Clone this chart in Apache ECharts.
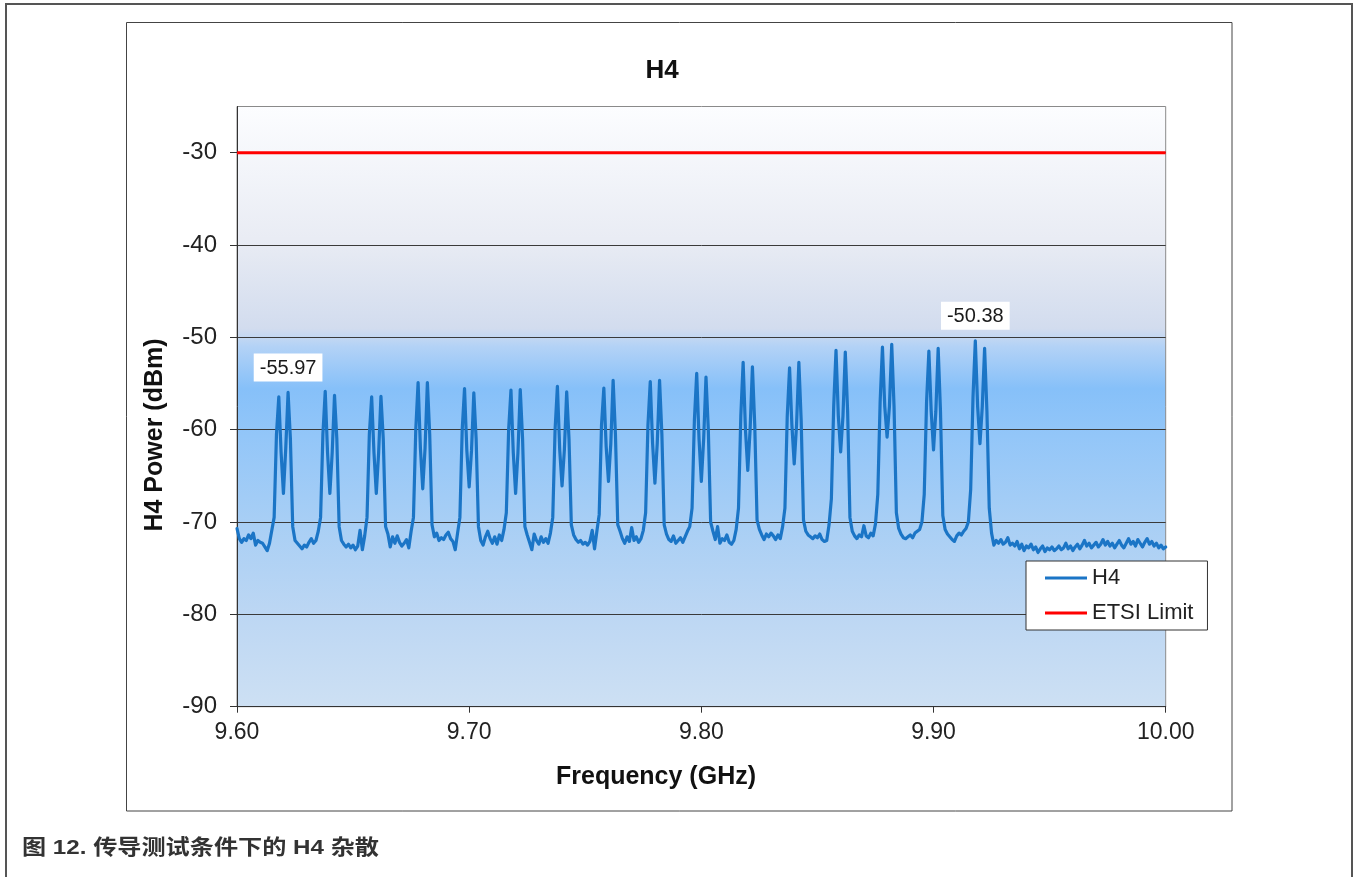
<!DOCTYPE html>
<html>
<head>
<meta charset="utf-8">
<title>H4</title>
<script src="https://cdn.jsdelivr.net/npm/echarts@6.0.0/dist/echarts.min.js"></script>
<style>
  html, body { margin: 0; padding: 0; background: #ffffff; }
  #chart { width: 1356px; height: 877px; }
</style>
</head>
<body>
<div id="chart"></div>
<script>
// Sweep grid: 9.600 GHz to 10.000 GHz in 1 MHz steps
const freqStart = 9.6;
const freqStep = 0.001;

// Measured H4 power (dBm), one value per sweep point
const h4Power = [
  -70.7, -71.8, -72.2, -71.8, -72.0, -71.4, -71.8, -71.2, -72.5, -72.0,
  -72.2, -72.3, -72.7, -73.1, -72.3, -70.9, -69.5, -60.5, -56.45, -62.5, -66.9, -62.0, -55.97, -61.0, -70.5, -72.0, -72.3, -72.6, -72.9, -72.5,
  -72.7, -72.2, -71.8, -72.3, -72.0, -71.0, -69.5, -60.5, -55.84, -62.5, -66.9, -62.5, -56.27, -61.0, -70.5, -72.0, -72.4, -72.7, -72.4, -72.8,
  -72.5, -73.0, -72.6, -70.9, -73.0, -71.5, -69.5, -60.5, -56.45, -62.5, -66.9, -62.5, -56.38, -61.0, -70.5, -71.3, -72.7, -71.6, -72.3, -71.5,
  -72.2, -72.6, -72.3, -71.9, -72.8, -71.0, -69.5, -60.0, -54.9, -62.0, -66.4, -62.0, -54.9, -60.5, -70.3, -71.6, -71.2, -72.0, -71.7, -71.9,
  -71.4, -71.1, -71.8, -72.1, -73.0, -71.2, -69.5, -60.0, -55.55, -62.3, -66.2, -62.3, -56.0, -61.0, -70.5, -72.0, -72.5, -71.6, -71.0, -71.8,
  -72.3, -71.6, -72.4, -71.4, -72.0, -70.8, -69.0, -60.0, -55.7, -62.5, -66.9, -62.5, -55.65, -61.0, -70.5, -71.4, -72.2, -73.0, -71.3, -72.0,
  -72.4, -71.6, -72.2, -71.8, -72.3, -71.2, -69.5, -60.0, -55.3, -62.2, -66.1, -62.2, -55.9, -61.0, -70.3, -71.4, -71.9, -72.2, -72.0, -72.4,
  -72.2, -72.5, -72.1, -70.9, -72.9, -71.0, -69.2, -59.5, -55.5, -61.8, -65.6, -61.5, -54.65, -60.5, -70.3, -71.0, -71.8, -72.3, -71.6, -72.1,
  -70.6, -72.0, -71.6, -72.2, -71.8, -70.9, -69.0, -59.5, -54.8, -61.5, -65.8, -61.5, -54.65, -60.5, -70.3, -71.3, -71.9, -72.1, -71.5, -72.3,
  -72.0, -71.7, -72.2, -71.6, -71.0, -70.5, -68.5, -59.0, -53.9, -61.0, -65.6, -61.0, -54.3, -60.0, -70.0, -71.0, -71.9, -70.5, -72.3, -71.8,
  -72.0, -71.4, -72.2, -72.4, -72.0, -70.8, -68.5, -58.5, -52.7, -60.0, -64.4, -60.0, -53.2, -59.5, -69.8, -70.8, -71.4, -71.9, -71.3, -71.6,
  -71.2, -71.5, -71.9, -71.4, -71.8, -70.5, -68.5, -58.5, -53.3, -59.5, -63.7, -59.5, -52.7, -59.0, -69.8, -71.0, -71.4, -71.6, -71.8, -71.5,
  -71.7, -71.3, -71.9, -72.1, -72.0, -70.3, -67.5, -57.5, -51.4, -58.5, -62.4, -58.5, -51.6, -58.0, -69.5, -71.0, -71.5, -71.8, -71.4, -71.6,
  -70.4, -71.5, -71.7, -71.2, -71.5, -70.2, -67.0, -57.0, -51.05, -57.5, -60.8, -57.5, -50.76, -57.5, -69.0, -70.7, -71.3, -71.7, -71.8, -71.6,
  -71.4, -71.7, -71.2, -71.0, -70.8, -70.0, -67.0, -57.0, -51.5, -58.0, -62.2, -58.0, -51.2, -58.0, -69.3, -70.8, -71.3, -71.6, -71.9, -72.1,
  -71.5, -71.2, -71.4, -71.0, -70.7, -70.0, -66.5, -56.5, -50.38, -57.5, -61.5, -57.5, -51.2, -58.0, -68.5, -71.2, -72.5, -72.0, -72.3, -71.9,
  -72.4, -72.2, -71.7, -72.5, -72.3, -72.6, -72.1, -72.9, -72.4, -73.1, -72.6, -72.8, -72.4, -73.0, -72.7, -73.3, -72.9, -72.6, -73.2, -72.8,
  -73.0, -72.7, -73.1, -72.9, -72.6, -73.0, -72.8, -72.3, -72.9, -72.6, -73.1, -72.7, -72.4, -72.9, -72.5, -72.0, -72.6, -72.3, -72.8, -72.5,
  -72.2, -72.7, -72.4, -71.9, -72.5, -72.1, -72.6, -72.3, -72.8, -72.4, -72.0, -72.5, -72.8, -72.3, -71.8, -72.4, -72.1, -72.6, -71.9, -72.3,
  -72.7, -72.2, -71.8, -72.4, -72.1, -72.6, -72.3, -72.8, -72.5, -72.9, -72.7
];

// ETSI spurious emission limit (dBm)
const limitFreq = [9.6, 10.0];
const limitPower = [-30, -30];

// Peaks called out with their value
const labelledPeaks = [-55.97, -50.38];

// Axis ticks
const xTicks = [9.6, 9.7, 9.8, 9.9, 10.0];
const yTicks = [-90, -80, -70, -60, -50, -40, -30];

const seriesNames = ['H4', 'ETSI Limit'];

const FONT = "'Liberation Sans', Arial, 'Noto Sans CJK SC', sans-serif";

const h4Data = h4Power.map((v, i) => [+(freqStart + i * freqStep).toFixed(3), v]);
const limitData = limitFreq.map((f, i) => [f, limitPower[i]]);
const peakData = labelledPeaks.map(p => h4Data[h4Power.indexOf(p)]);

const chart = echarts.init(document.getElementById('chart'), null, { renderer: 'canvas' });

chart.setOption({
  animation: false,
  backgroundColor: '#ffffff',
  textStyle: { fontFamily: FONT },
  grid: {
    left: 237,
    right: 190.3,
    top: 106.5,
    bottom: 170.3,
    outerBoundsMode: 'none',
    show: true,
    borderColor: '#8a8a8a',
    borderWidth: 1,
    backgroundColor: {
      type: 'linear', x: 0, y: 0, x2: 0, y2: 1,
      colorStops: [
        { offset: 0.00, color: '#fcfdff' },
        { offset: 0.22, color: '#e9ecf4' },
        { offset: 0.37, color: '#d2dcee' },
        { offset: 0.40, color: '#b3d2f6' },
        { offset: 0.47, color: '#86c0f9' },
        { offset: 0.55, color: '#93c6f8' },
        { offset: 0.70, color: '#a9cff5' },
        { offset: 0.85, color: '#bdd7f3' },
        { offset: 1.00, color: '#cde0f3' }
      ]
    }
  },
  legend: {
    data: seriesNames,
    orient: 'vertical',
    left: 1026,
    top: 561,
    backgroundColor: '#ffffff',
    borderColor: '#333333',
    borderWidth: 1,
    borderRadius: 0,
    padding: [6, 14, 6, 19],
    itemGap: 13,
    itemWidth: 42,
    itemHeight: 3,
    itemTextGap: 3,
    icon: 'path://M0,0L42,0L42,3L0,3Z',
    textStyle: { fontSize: 22, lineHeight: 22, color: '#222222', fontFamily: FONT }
  },
  xAxis: {
    type: 'value',
    min: xTicks[0],
    max: xTicks[xTicks.length - 1],
    interval: 0.1,
    axisLine: { show: true, onZero: false, lineStyle: { color: '#333333', width: 1 } },
    axisTick: { show: true, length: 6, lineStyle: { color: '#333333' } },
    axisLabel: {
      fontSize: 23, color: '#222222', margin: 14, fontFamily: FONT,
      formatter: v => v.toFixed(2)
    },
    splitLine: { show: false }
  },
  yAxis: {
    type: 'value',
    min: yTicks[0],
    max: -25,
    interval: 10,
    axisLine: { show: true, onZero: false, lineStyle: { color: '#333333', width: 1 } },
    axisTick: { show: true, length: 7, customValues: yTicks, lineStyle: { color: '#333333' } },
    axisLabel: {
      fontSize: 24, color: '#222222', margin: 20, fontFamily: FONT,
      customValues: yTicks,
      formatter: v => (v % 10 === 0 ? String(v) : '')
    },
    splitLine: { show: true, lineStyle: { color: '#3a3a3a', width: 1 } }
  },
  series: [
    {
      name: 'H4',
      type: 'line',
      data: h4Data,
      symbol: 'none',
      smooth: false,
      lineStyle: { color: '#1b75c6', width: 3.2, join: 'round', cap: 'round' },
      itemStyle: { color: '#1b75c6' },
      z: 3
    },
    {
      name: 'ETSI Limit',
      type: 'line',
      data: limitData,
      symbol: 'none',
      lineStyle: { color: '#ff0000', width: 3 },
      itemStyle: { color: '#ff0000' },
      z: 4
    },
    {
      name: 'peaks',
      type: 'scatter',
      data: peakData,
      symbolSize: 0,
      itemStyle: { color: '#1b75c6', opacity: 1 },
      z: 5,
      label: {
        show: true,
        position: 'top',
        distance: 11,
        formatter: p => p.value[1].toFixed(2),
        backgroundColor: '#ffffff',
        padding: [4, 6, 2, 6],
        lineHeight: 22,
        fontSize: 20,
        color: '#1a1a1a',
        opacity: 1,
        fontFamily: FONT
      }
    }
  ],
  graphic: [
    {
      type: 'rect', silent: true, z: -10,
      shape: { x: 6, y: 4, width: 1346, height: 900 },
      style: { fill: 'none', stroke: '#555555', lineWidth: 2 }
    },
    {
      type: 'rect', silent: true, z: -10,
      shape: { x: 126.5, y: 22.5, width: 1105.5, height: 788.5 },
      style: { fill: 'none', stroke: '#444444', lineWidth: 1 }
    },
    {
      type: 'text', silent: true,
      x: 662, y: 71,
      style: { text: 'H4', align: 'center', verticalAlign: 'middle', font: "bold 26px " + FONT, fill: '#111111' }
    },
    {
      type: 'text', silent: true,
      x: 155, y: 435, rotation: Math.PI / 2,
      style: { text: 'H4 Power (dBm)', align: 'center', verticalAlign: 'middle', font: "bold 25px " + FONT, fill: '#111111' }
    },
    {
      type: 'text', silent: true,
      x: 656, y: 777,
      style: { text: 'Frequency (GHz)', align: 'center', verticalAlign: 'middle', font: "bold 25px " + FONT, fill: '#111111' }
    },
    {
      type: 'text', silent: true,
      x: 22, y: 848, scaleX: 1.15, originX: 0, originY: 0,
      style: { text: '图 12. 传导测试条件下的 H4 杂散', align: 'left', verticalAlign: 'middle', font: "bold 21px " + FONT, fill: '#333333' }
    }
  ]
});
</script>
</body>
</html>
